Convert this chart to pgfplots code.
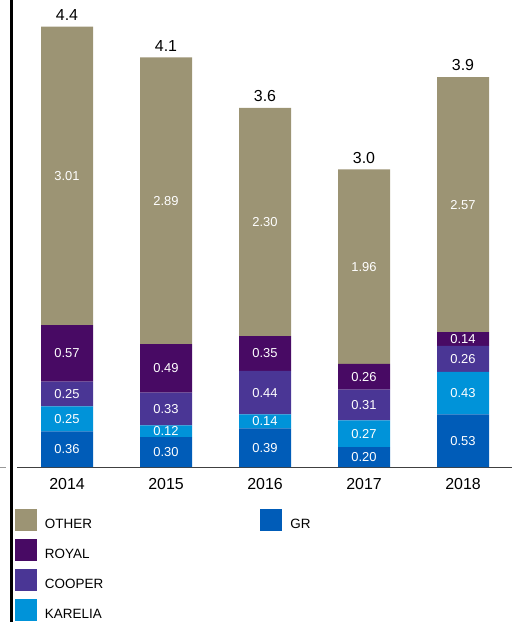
\documentclass[border=0pt]{standalone}
\usepackage{pgfplots}
\pgfplotsset{compat=1.18}
\usepackage{fontspec}
\setmainfont{Liberation Sans}
\definecolor{cother}{HTML}{9C9474}
\definecolor{croyal}{HTML}{480A64}
\definecolor{ccooper}{HTML}{4A3695}
\definecolor{ckarelia}{HTML}{0093D9}
\definecolor{cgr}{HTML}{005CB8}
\pgfplotsset{sq/.style={legend image code/.code={\fill[fill=#1,draw=none] (0bp,-6.2bp) rectangle (22bp,15.8bp);}}}
\begin{document}
\begin{tikzpicture}
\begin{axis}[
  name=main, scale only axis, width=500bp, height=467bp,
  xmin=-0.5556, xmax=4.4949, ymin=0, ymax=4.708,
  ybar stacked, bar width=52bp,
  axis line style={draw=none}, major tick length=0pt, ytick=\empty,
  xtick={0,1,2,3,4}, xticklabels={2014,2015,2016,2017,2018},
  xticklabel style={font=\fontsize{16}{16}\selectfont, inner sep=0pt, anchor=north, yshift=-11bp},
  clip=false,
  legend columns=2,
  legend style={draw=none, fill=none, at={(0.006,-0.0899)}, anchor=north west,
    inner sep=0pt, outer sep=0pt, font=\fontsize{13.5}{13.5}\selectfont,
    row sep=8bp, nodes={inner sep=0pt},
    /tikz/every odd column/.style={column sep=8bp},
    /tikz/column 2/.style={column sep=157bp}},
  legend cell align=left,
]
\addplot[fill=cgr, draw=none, forget plot] coordinates {(0,0.36) (1,0.30) (2,0.39) (3,0.20) (4,0.53)};
\addplot[fill=ckarelia, draw=none, forget plot] coordinates {(0,0.25) (1,0.12) (2,0.14) (3,0.27) (4,0.43)};
\addplot[fill=ccooper, draw=none, forget plot] coordinates {(0,0.25) (1,0.33) (2,0.44) (3,0.31) (4,0.26)};
\addplot[fill=croyal, draw=none, forget plot] coordinates {(0,0.57) (1,0.49) (2,0.35) (3,0.26) (4,0.14)};
\addplot[fill=cother, draw=none, forget plot] coordinates {(0,3.01) (1,2.89) (2,2.30) (3,1.96) (4,2.57)};
\addlegendimage{sq=cother}\addlegendentry{OTHER}
\addlegendimage{sq=cgr}\addlegendentry{GR}
\addlegendimage{sq=croyal}\addlegendentry{ROYAL}
\addlegendimage{empty legend}\addlegendentry{}
\addlegendimage{sq=ccooper}\addlegendentry{COOPER}
\addlegendimage{empty legend}\addlegendentry{}
\addlegendimage{sq=ckarelia}\addlegendentry{KARELIA}
\addlegendimage{empty legend}\addlegendentry{}
\draw[line width=2.5bp] (axis cs:-0.5606,4.708) -- (axis cs:-0.5606,-1.5625);
\draw[line width=1bp, black!75] (axis cs:-0.505,0) -- (axis cs:4.4949,0);
\draw[line width=1bp, black!40] (axis cs:-0.677,0) -- (axis cs:-0.616,0);
\coordinate (bl) at (axis cs:-0.5556,0);
\coordinate (tr) at (axis cs:4.4949,4.708);
\end{axis}
\begin{axis}[
  scale only axis, width=500bp, height=467bp,
  xmin=-0.5556, xmax=4.4949, ymin=0, ymax=4.708,
  hide axis, clip=false,
]
\addplot[draw=none, mark=none, nodes near coords, point meta=explicit symbolic,
  every node near coord/.style={text=white, anchor=center, inner sep=0pt, font=\fontsize{13}{13}\selectfont}]
  table[meta=l] {
x y l
0 0.180 0.36
0 0.485 0.25
0 0.735 0.25
0 1.145 0.57
0 2.935 3.01
1 0.150 0.30
1 0.360 0.12
1 0.585 0.33
1 0.995 0.49
1 2.685 2.89
2 0.195 0.39
2 0.460 0.14
2 0.750 0.44
2 1.145 0.35
2 2.470 2.30
3 0.100 0.20
3 0.335 0.27
3 0.625 0.31
3 0.910 0.26
3 2.020 1.96
4 0.265 0.53
4 0.745 0.43
4 1.090 0.26
4 1.290 0.14
4 2.645 2.57
};
\addplot[draw=none, mark=none, nodes near coords, point meta=explicit symbolic,
  every node near coord/.style={text=black, anchor=south, inner sep=0pt, yshift=6bp, font=\fontsize{16}{16}\selectfont}]
  table[meta=l] {
x y l
0 4.44 4.4
1 4.13 4.1
2 3.62 3.6
3 3.00 3.0
4 3.93 3.9
};
\end{axis}
\pgfresetboundingbox
\path ([shift={(-12bp,-155bp)}]bl) rectangle (tr);
\end{tikzpicture}
\end{document}
